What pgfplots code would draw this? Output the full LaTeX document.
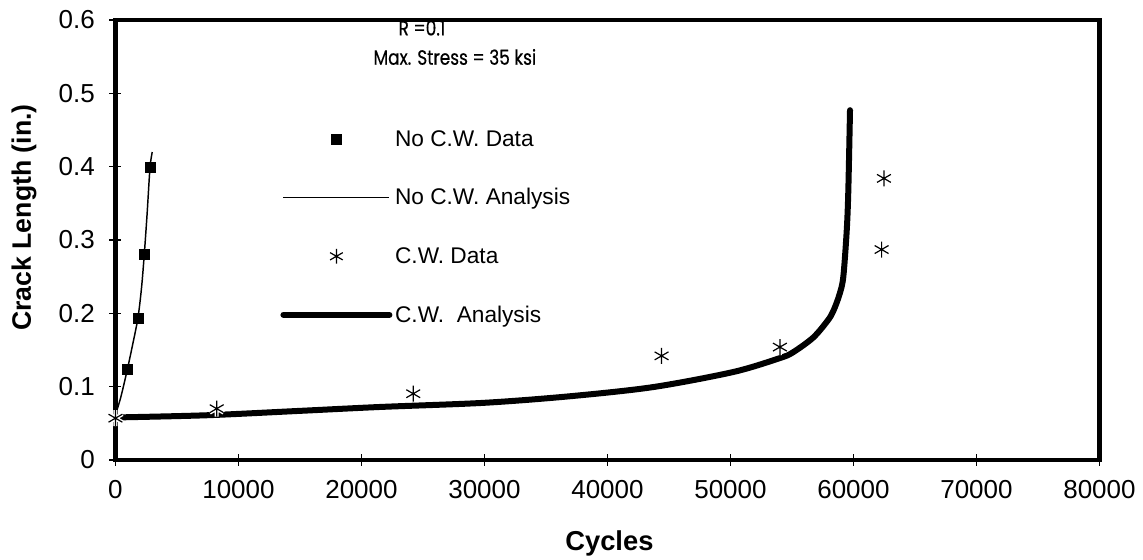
\documentclass[border=0pt]{standalone}
\usepackage{pgfplots}
\pgfplotsset{compat=1.18}
\usepackage{fontspec}
\setmainfont{Liberation Sans}
\newfontfamily\annfont[FakeStretch=0.82,FakeBold=0.4]{Poppins}
\pgfplotsset{
  markleg/.style={legend image code/.code={\draw[##1] plot coordinates {(39.75pt,0pt)};}},
  lineleg/.style={legend image code/.code={\draw[##1] (0pt,0pt) -- (79.5pt,0pt);}},
}

\begin{document}
\begin{tikzpicture}
\path[use as bounding box] (0,0) rectangle (857.25pt,420pt);
\begin{axis}[
  at={(86.6pt,75pt)}, anchor=south west,
  scale only axis, width=738pt, height=330pt,
  xmin=0, xmax=80000, ymin=0, ymax=0.6,
  axis line style={line width=3.5pt},
  scaled x ticks=false,
  xtick={0,10000,20000,30000,40000,50000,60000,70000,80000},
  xticklabels={0,10000,20000,30000,40000,50000,60000,70000,80000},
  ytick={0,0.1,0.2,0.3,0.4,0.5,0.6},
  yticklabels={0,0.1,0.2,0.3,0.4,0.5,0.6},
  xtick pos=left, ytick pos=left,
  tick align=center, major tick length=9pt,
  tick style={line width=0.9pt, black},
  tick label style={font=\fontsize{19.5}{22}\selectfont},
  xticklabel style={yshift=-7pt},
  yticklabel style={xshift=-7.5pt},
  xlabel={Cycles}, ylabel={Crack Length (in.)},
  every axis x label/.style={at={(axis description cs:0.502,-0.2068)}, anchor=base,
    font=\fontsize{20.5}{24}\selectfont\bfseries},
  every axis y label/.style={at={(axis description cs:-0.0860,0.551)}, rotate=90, anchor=base,
    font=\fontsize{20}{24}\selectfont\bfseries},
  clip=false,
  legend style={draw=none, fill=none, at={(axis description cs:0.1633,0.762)}, anchor=north west,
    row sep=26.3pt, font=\fontsize{17}{20}\selectfont, cells={anchor=west}},
]
% No C.W. Analysis
\addplot[forget plot, black, line width=1.1pt, smooth] coordinates {
(0,0.062) (250,0.075) (500,0.090) (959,0.123) (1380,0.156) (1829,0.194)
(2120,0.235) (2341,0.280) (2570,0.335) (2805,0.398) (2990,0.420)};
% C.W. Analysis
\addplot[forget plot, black, line width=4.5pt, line cap=round, line join=round, smooth] coordinates {
(0,0.058) (7415,0.061) (15000,0.067) (21500,0.0723) (30000,0.078) (37000,0.087)
(43700,0.0994) (50230,0.120) (54020,0.139) (55100,0.147) (56730,0.167)
(57900,0.190) (58360,0.203) (58850,0.225) (59170,0.249) (59450,0.312) (59580,0.366) (59720,0.477)};
% No C.W. Data
\addplot[forget plot, only marks, mark=square*, mark size=3.8pt, black] coordinates {
(959,0.124) (1829,0.193) (2341,0.281) (2805,0.399)};
% C.W. Data (halo + mark)
\addplot[forget plot, only marks, mark=asterisk, mark size=6pt, white, mark options={line width=3pt}] coordinates {
(0,0.057) (8230,0.070) (24210,0.0904) (44400,0.142) (54020,0.154) (62290,0.287) (62480,0.384)};
\addplot[forget plot, only marks, mark=asterisk, mark size=6pt, black, mark options={line width=0.9pt}] coordinates {
(0,0.057) (8230,0.070) (24210,0.0904) (44400,0.142) (54020,0.154) (62290,0.287) (62480,0.384)};

\addlegendimage{only marks, mark=square*, mark size=3.8pt, black, markleg}
\addlegendentry{No C.W. Data}
\addlegendimage{black, line width=1.1pt, lineleg}
\addlegendentry{No C.W. Analysis}
\addlegendimage{only marks, mark=asterisk, mark size=5.5pt, black, mark options={line width=0.9pt}, markleg}
\addlegendentry{C.W. Data}
\addlegendimage{black, line width=4.5pt, line cap=round, lineleg}
\addlegendentry{C.W.\ \ Analysis}

\node[font=\annfont\fontsize{15.5}{17}\selectfont, anchor=west] at (axis description cs:0.283,0.982) {R =0.1};
\node[font=\annfont\fontsize{15.5}{17}\selectfont, anchor=west] at (axis description cs:0.2575,0.916) {Max. Stress = 35 ksi};
\end{axis}
\end{tikzpicture}
\end{document}
